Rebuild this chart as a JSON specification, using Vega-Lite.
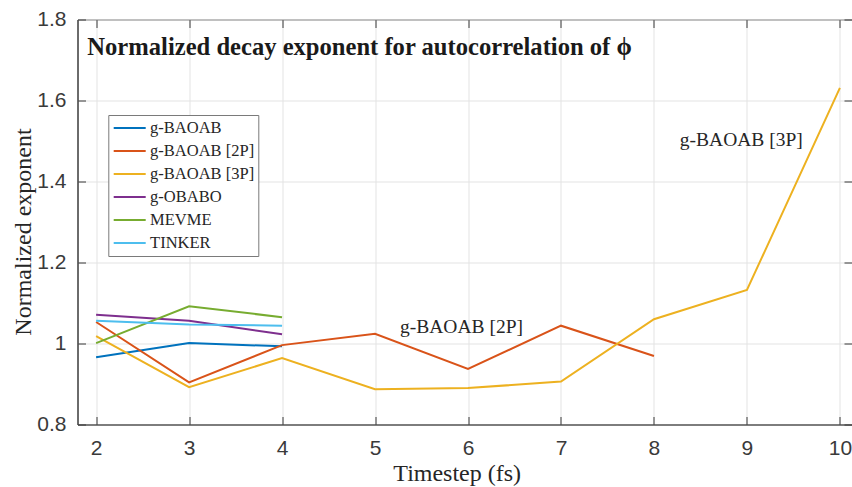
{
  "$schema": "https://vega.github.io/schema/vega-lite/v6.json",
  "width": 774.5,
  "height": 405,
  "autosize": {"type": "none"},
  "padding": {"left": 77.5, "top": 19.5, "right": 0, "bottom": 62.5},
  "background": "white",
  "config": {
    "view": {"stroke": "#3a3a3a", "strokeWidth": 1},
    "axis": {
      "labelFont": "Liberation Sans",
      "labelFontSize": 21,
      "labelColor": "#3a3a3a",
      "domainColor": "#3a3a3a",
      "tickColor": "#3a3a3a",
      "gridColor": "#e3e3e3",
      "gridWidth": 1,
      "tickSize": -8,
      "titleFont": "Liberation Serif",
      "titleFontWeight": "normal",
      "titleFontSize": 24,
      "titleColor": "#262626"
    },
    "legend": {
      "symbolType": "M-2,0H2",
      "symbolSize": 256,
      "symbolStrokeWidth": 2,
      "symbolOffset": 8.4,
      "labelOffset": 11.4,
      "padding": 4,
      "rowPadding": 5,
      "labelFont": "Liberation Serif",
      "labelFontSize": 16.5,
      "labelColor": "#262626",
      "fillColor": "white",
      "strokeColor": "#7a7a7a"
    }
  },
  "title": {
    "text": "Normalized decay exponent for autocorrelation of ϕ",
    "anchor": "start",
    "frame": "group",
    "orient": "none",
    "baseline": "alphabetic",
    "align": "left",
    "dx": 9.8,
    "dy": 35.5,
    "font": "Liberation Serif",
    "fontSize": 24.6,
    "fontWeight": "bold",
    "color": "#1a1a1a"
  },
  "datasets": {
    "series": [
      {"method": "g-BAOAB", "t": 2, "v": 0.966},
      {"method": "g-BAOAB", "t": 3, "v": 1.001},
      {"method": "g-BAOAB", "t": 4, "v": 0.993},
      {"method": "g-BAOAB [2P]", "t": 2, "v": 1.053},
      {"method": "g-BAOAB [2P]", "t": 3, "v": 0.904},
      {"method": "g-BAOAB [2P]", "t": 4, "v": 0.996},
      {"method": "g-BAOAB [2P]", "t": 5, "v": 1.024},
      {"method": "g-BAOAB [2P]", "t": 6, "v": 0.937},
      {"method": "g-BAOAB [2P]", "t": 7, "v": 1.044},
      {"method": "g-BAOAB [2P]", "t": 8, "v": 0.969},
      {"method": "g-BAOAB [3P]", "t": 2, "v": 1.018},
      {"method": "g-BAOAB [3P]", "t": 3, "v": 0.892},
      {"method": "g-BAOAB [3P]", "t": 4, "v": 0.964},
      {"method": "g-BAOAB [3P]", "t": 5, "v": 0.887},
      {"method": "g-BAOAB [3P]", "t": 6, "v": 0.890},
      {"method": "g-BAOAB [3P]", "t": 7, "v": 0.906},
      {"method": "g-BAOAB [3P]", "t": 8, "v": 1.060},
      {"method": "g-BAOAB [3P]", "t": 9, "v": 1.132},
      {"method": "g-BAOAB [3P]", "t": 10, "v": 1.631},
      {"method": "g-OBABO", "t": 2, "v": 1.071},
      {"method": "g-OBABO", "t": 3, "v": 1.056},
      {"method": "g-OBABO", "t": 4, "v": 1.023},
      {"method": "MEVME", "t": 2, "v": 1.001},
      {"method": "MEVME", "t": 3, "v": 1.092},
      {"method": "MEVME", "t": 4, "v": 1.065},
      {"method": "TINKER", "t": 2, "v": 1.056},
      {"method": "TINKER", "t": 3, "v": 1.047},
      {"method": "TINKER", "t": 4, "v": 1.044}
    ],
    "notes": [
      {"label": "g-BAOAB [2P]", "x": 5.93, "y": 1.025},
      {"label": "g-BAOAB [3P]", "x": 8.94, "y": 1.487}
    ]
  },
  "layer": [
    {
      "data": {"name": "series"},
      "mark": {"type": "line", "strokeWidth": 2},
      "encoding": {
        "x": {
          "field": "t",
          "type": "quantitative",
          "scale": {"domain": [1.8, 10.13], "nice": false, "zero": false},
          "axis": {
            "orient": "bottom",
            "values": [2, 3, 4, 5, 6, 7, 8, 9, 10],
            "labelPadding": 21,
            "labelBaseline": "top",
            "title": "Timestep (fs)",
            "titleAnchor": "start",
            "titleAlign": "center",
            "titleBaseline": "alphabetic",
            "titleX": 379.2,
            "titleY": 55.5
          }
        },
        "y": {
          "field": "v",
          "type": "quantitative",
          "scale": {"domain": [0.8, 1.8], "nice": false, "zero": false},
          "axis": {
            "orient": "left",
            "values": [0.8, 1, 1.2, 1.4, 1.6, 1.8],
            "labelExpr": "format(datum.value, '.2~f')",
            "labelPadding": 19.5,
            "title": "Normalized exponent",
            "titleAngle": -90,
            "titleAlign": "center",
            "titleBaseline": "alphabetic",
            "titleX": -47.5,
            "titleY": 212
          }
        },
        "color": {
          "field": "method",
          "type": "nominal",
          "scale": {
            "domain": ["g-BAOAB", "g-BAOAB [2P]", "g-BAOAB [3P]", "g-OBABO", "MEVME", "TINKER"],
            "range": ["#0072BD", "#D95319", "#EDB120", "#7E2F8E", "#77AC30", "#4DBEEE"]
          },
          "legend": {"orient": "none", "legendX": 30.8, "legendY": 95.5, "title": null}
        }
      }
    },
    {
      "data": {"name": "notes"},
      "mark": {
        "type": "text",
        "font": "Liberation Serif",
        "fontSize": 19.5,
        "color": "#262626",
        "align": "center",
        "baseline": "alphabetic"
      },
      "encoding": {
        "x": {
          "field": "x",
          "type": "quantitative",
          "axis": {"orient": "top", "values": [2, 3, 4, 5, 6, 7, 8, 9, 10], "labels": false, "grid": false, "domain": false, "title": null}
        },
        "y": {
          "field": "y",
          "type": "quantitative",
          "axis": {"orient": "right", "values": [0.8, 1, 1.2, 1.4, 1.6, 1.8], "labels": false, "grid": false, "domain": false, "title": null}
        },
        "text": {"field": "label"}
      }
    }
  ],
  "resolve": {"axis": {"x": "independent", "y": "independent"}}
}
